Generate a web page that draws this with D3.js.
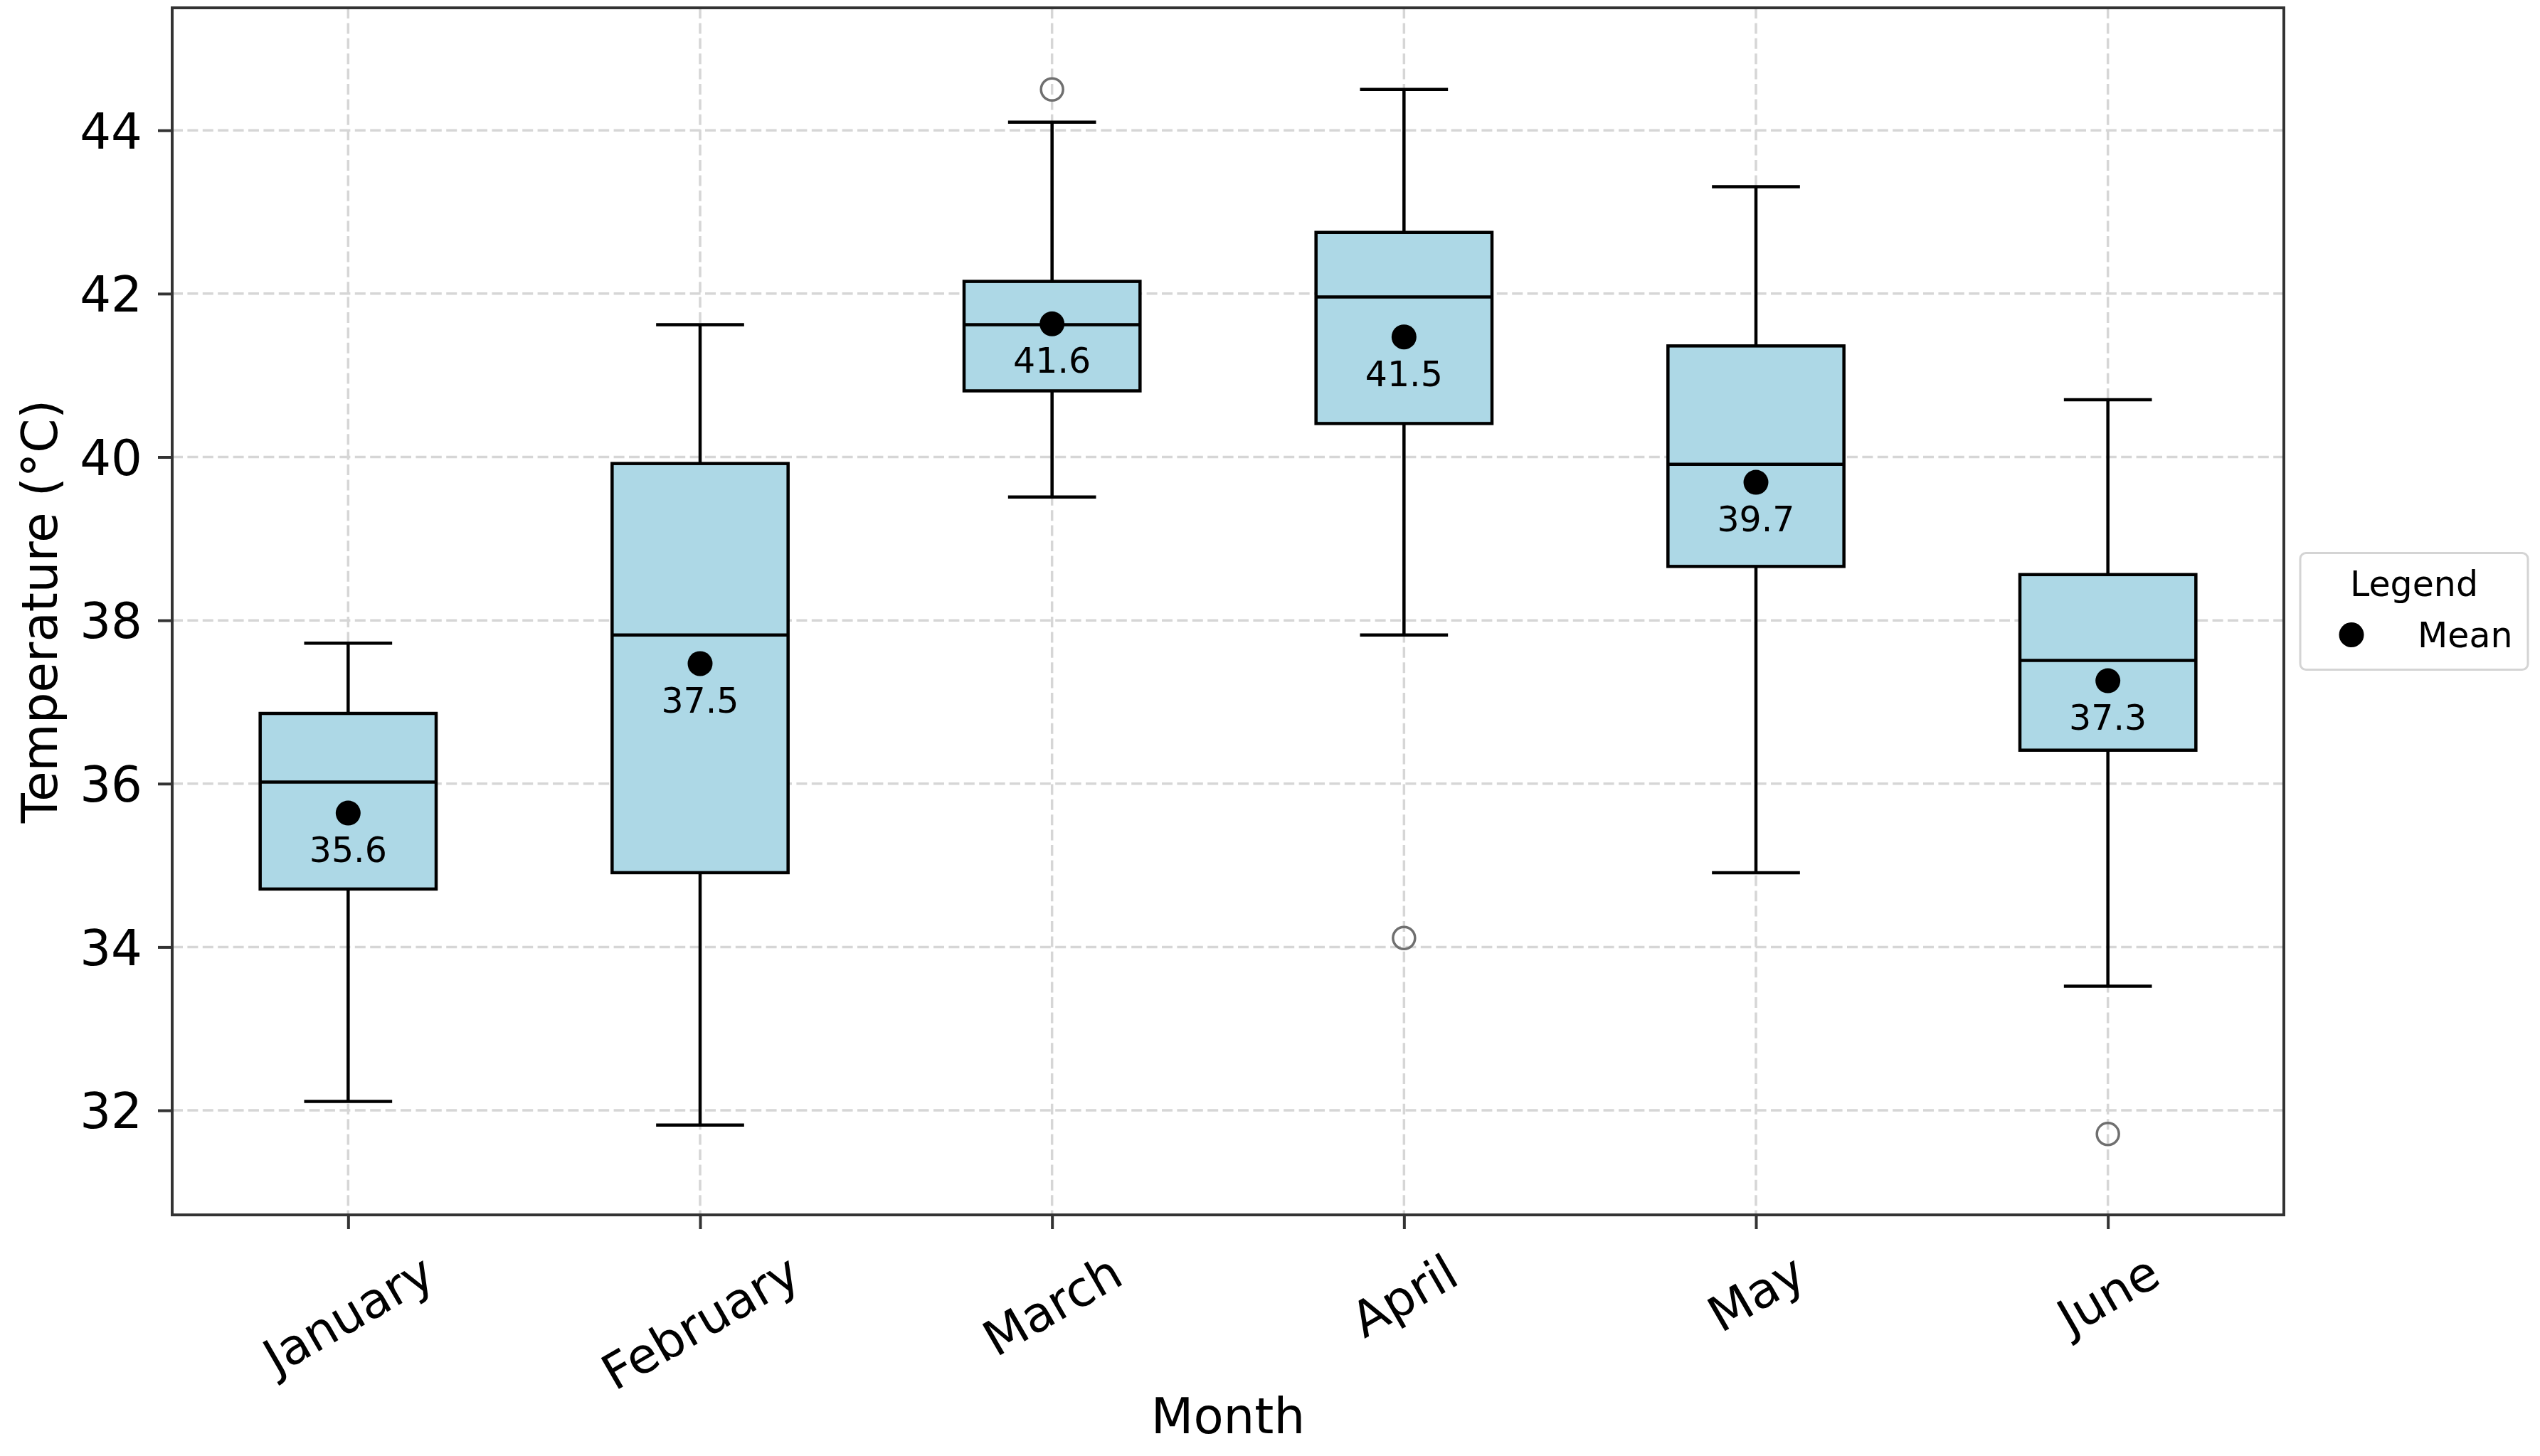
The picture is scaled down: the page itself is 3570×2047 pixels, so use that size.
<!DOCTYPE html>
<html lang="en">
<head>
  <meta charset="UTF-8">
  <title>Monthly Temperature Box Plot</title>
  <script src="https://cdnjs.cloudflare.com/ajax/libs/d3/7.8.5/d3.min.js"></script>
  <style>
    body { margin: 0; background: #fff; }
    text { font-family: 'DejaVu Sans', sans-serif; fill: #000; }
  </style>
</head>
<body>
<script>
  // Box statistics
  const months = ["January", "February", "March", "April", "May", "June"];
  const whiskerLow = [32.11, 31.82, 39.51, 37.82, 34.91, 33.52];
  const q1 = [34.71, 34.91, 40.81, 40.41, 38.66, 36.41];
  const medians = [36.02, 37.82, 41.62, 41.96, 39.91, 37.51];
  const q3 = [36.86, 39.92, 42.15, 42.75, 41.36, 38.56];
  const whiskerHigh = [37.72, 41.62, 44.1, 44.5, 43.31, 40.7];
  const means = [35.64, 37.47, 41.63, 41.47, 39.69, 37.26];
  const outlierMonths = ["March", "April", "June"];
  const outlierValues = [44.5, 34.11, 31.71];
  const yTicks = [32, 34, 36, 38, 40, 42, 44];

  const data = months.map((m, i) => ({
    month: m, lo: whiskerLow[i], q1: q1[i], med: medians[i],
    q3: q3[i], hi: whiskerHigh[i], mean: means[i]
  }));

  const W = 3570, H = 2047;
  const plot = { left: 242, right: 3210, top: 11, bottom: 1708 };

  const svg = d3.select("body").append("svg")
    .attr("width", W)
    .attr("height", H);

  const x = d3.scalePoint()
    .domain(months)
    .range([plot.left, plot.right])
    .padding(0.5);

  const y = d3.scaleLinear()
    .domain([30.72, 45.5])
    .range([plot.bottom, plot.top]);

  const boxW = x.step() * 0.5;
  const capW = boxW * 0.5;

  // Grid (dashed, light gray)
  const grid = svg.append("g")
    .attr("stroke", "#d6d6d6")
    .attr("stroke-width", 3.5)
    .attr("stroke-dasharray", "15,6.4");

  grid.selectAll(".hgrid")
    .data(yTicks)
    .enter().append("line")
    .attr("x1", plot.left).attr("x2", plot.right)
    .attr("y1", d => y(d)).attr("y2", d => y(d));

  grid.selectAll(".vgrid")
    .data(months)
    .enter().append("line")
    .attr("x1", d => x(d)).attr("x2", d => x(d))
    .attr("y1", plot.top).attr("y2", plot.bottom);

  // Boxes
  const boxes = svg.selectAll(".box")
    .data(data)
    .enter().append("g")
    .attr("class", "box")
    .attr("stroke", "#000")
    .attr("stroke-width", 4.5);

  // whiskers
  boxes.append("line")
    .attr("x1", d => x(d.month)).attr("x2", d => x(d.month))
    .attr("y1", d => y(d.q3)).attr("y2", d => y(d.hi));
  boxes.append("line")
    .attr("x1", d => x(d.month)).attr("x2", d => x(d.month))
    .attr("y1", d => y(d.q1)).attr("y2", d => y(d.lo));

  // caps
  boxes.append("line")
    .attr("x1", d => x(d.month) - capW / 2).attr("x2", d => x(d.month) + capW / 2)
    .attr("y1", d => y(d.hi)).attr("y2", d => y(d.hi));
  boxes.append("line")
    .attr("x1", d => x(d.month) - capW / 2).attr("x2", d => x(d.month) + capW / 2)
    .attr("y1", d => y(d.lo)).attr("y2", d => y(d.lo));

  // box body
  boxes.append("rect")
    .attr("x", d => x(d.month) - boxW / 2)
    .attr("y", d => y(d.q3))
    .attr("width", boxW)
    .attr("height", d => y(d.q1) - y(d.q3))
    .attr("fill", "#add8e6");

  // median
  boxes.append("line")
    .attr("x1", d => x(d.month) - boxW / 2).attr("x2", d => x(d.month) + boxW / 2)
    .attr("y1", d => y(d.med)).attr("y2", d => y(d.med));

  // Outliers (open gray circles)
  svg.selectAll(".flier")
    .data(outlierValues)
    .enter().append("circle")
    .attr("cx", (d, i) => x(outlierMonths[i]))
    .attr("cy", d => y(d))
    .attr("r", 15.5)
    .attr("fill", "none")
    .attr("stroke", "#6f6f6f")
    .attr("stroke-width", 3.5);

  // Mean markers + labels
  svg.selectAll(".mean")
    .data(data)
    .enter().append("circle")
    .attr("cx", d => x(d.month))
    .attr("cy", d => y(d.mean))
    .attr("r", 17.5)
    .attr("fill", "#000");

  svg.selectAll(".meanlabel")
    .data(data)
    .enter().append("text")
    .attr("x", d => x(d.month))
    .attr("y", d => y(d.mean) + 69)
    .attr("text-anchor", "middle")
    .attr("font-size", 49)
    .text(d => d.mean.toFixed(1));

  // Y axis
  const yAxis = svg.append("g")
    .attr("transform", `translate(${plot.left},0)`)
    .call(d3.axisLeft(y).tickValues(yTicks).tickSize(20).tickPadding(22).tickFormat(d3.format("d")));
  yAxis.select(".domain").remove();
  yAxis.selectAll(".tick line").attr("stroke", "#333").attr("stroke-width", 4);
  yAxis.selectAll(".tick text")
    .attr("font-size", 69)
    .attr("font-family", "'DejaVu Sans', sans-serif")
    .attr("fill", "#000")
    .attr("dy", "0.36em");

  // X axis with rotated labels
  const xAxis = svg.append("g")
    .attr("transform", `translate(0,${plot.bottom})`)
    .call(d3.axisBottom(x).tickSize(20).tickPadding(0));
  xAxis.select(".domain").remove();
  xAxis.selectAll(".tick line").attr("stroke", "#333").attr("stroke-width", 4);
  const fs = 69;
  xAxis.selectAll(".tick text")
    .attr("font-size", fs)
    .attr("font-family", "'DejaVu Sans', sans-serif")
    .attr("fill", "#000")
    .each(function() {
      const t = d3.select(this);
      const w = this.getComputedTextLength();
      const h = 1.164 * fs;
      const boxH = w * Math.sin(Math.PI / 6) + h * Math.cos(Math.PI / 6);
      const cy = 40 + boxH / 2;
      t.attr("y", null).attr("dy", null)
        .attr("text-anchor", "middle")
        .attr("transform", `translate(0,${cy}) rotate(-30)`)
        .attr("y", 0.346 * fs);
    });

  // Frame
  svg.append("rect")
    .attr("x", plot.left).attr("y", plot.top)
    .attr("width", plot.right - plot.left)
    .attr("height", plot.bottom - plot.top)
    .attr("fill", "none")
    .attr("stroke", "#333")
    .attr("stroke-width", 4);

  // Axis titles
  svg.append("text")
    .attr("x", (plot.left + plot.right) / 2)
    .attr("y", 2015)
    .attr("text-anchor", "middle")
    .attr("font-size", 69)
    .text("Month");

  svg.append("text")
    .attr("transform", `translate(80,${(plot.top + plot.bottom) / 2}) rotate(-90)`)
    .attr("text-anchor", "middle")
    .attr("font-size", 69)
    .text("Temperature (°C)");

  // Legend
  const lg = svg.append("g")
    .attr("transform", `translate(${plot.right + 23},${(plot.top + plot.bottom) / 2 - 82})`);
  lg.append("rect")
    .attr("width", 320).attr("height", 164)
    .attr("rx", 8)
    .attr("fill", "#fff")
    .attr("stroke", "#d4d4d4")
    .attr("stroke-width", 3);
  lg.append("text")
    .attr("x", 160).attr("y", 60)
    .attr("text-anchor", "middle")
    .attr("font-size", 49)
    .text("Legend");
  lg.append("circle")
    .attr("cx", 72).attr("cy", 115)
    .attr("r", 17.5)
    .attr("fill", "#000");
  lg.append("text")
    .attr("x", 165).attr("y", 132)
    .attr("font-size", 49)
    .text("Mean");
</script>
</body>
</html>
